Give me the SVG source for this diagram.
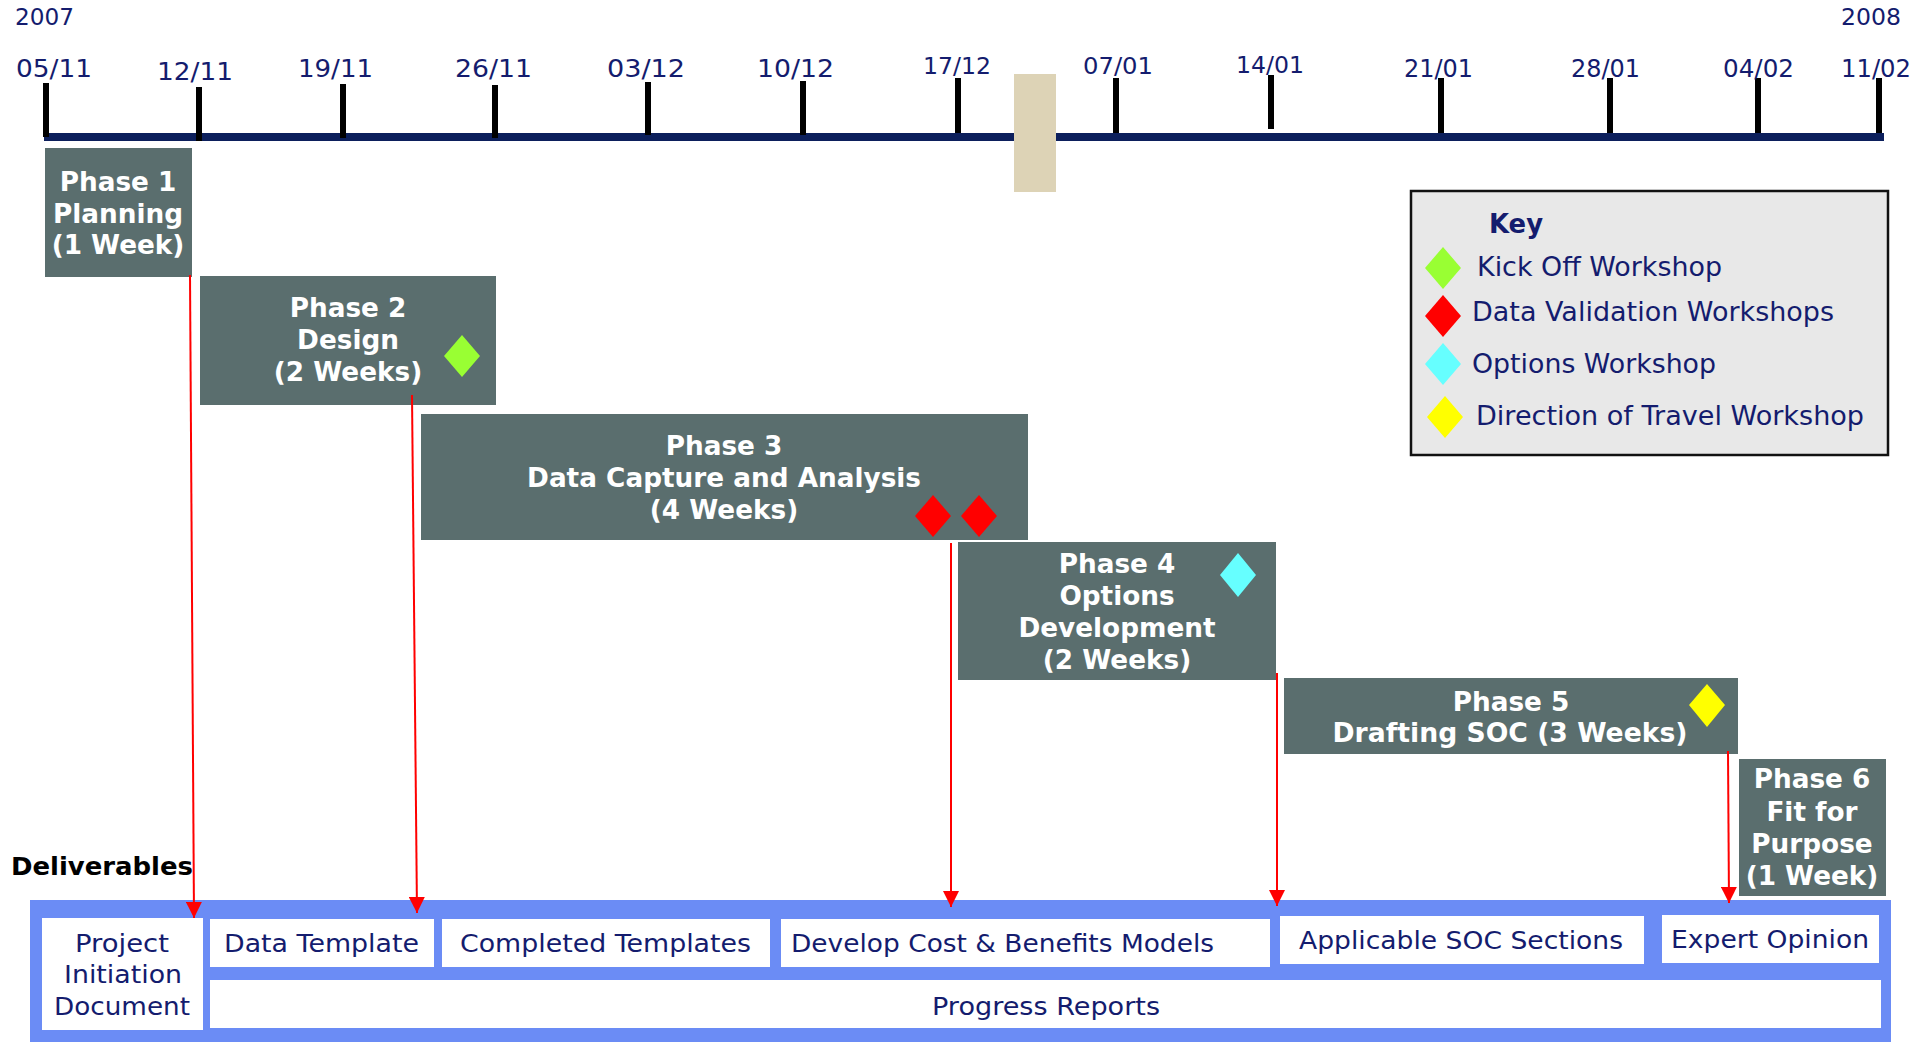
<svg xmlns="http://www.w3.org/2000/svg" width="1932" height="1042" viewBox="0 0 1932 1042">
<defs>
<style>
.date{font-family:"DejaVu Sans",Verdana,sans-serif;font-size:25px;fill:#141c6e}
.yr{font-family:"DejaVu Sans",Verdana,sans-serif;font-size:23px;fill:#141c6e}
.tick{fill:#000}
.phase{fill:#5a6e6e}
.pt{font-family:"DejaVu Sans",Verdana,sans-serif;font-size:26.3px;font-weight:bold;fill:#fff;text-anchor:middle}
.key{font-family:"DejaVu Sans",Verdana,sans-serif;font-size:26px;fill:#141c6e}
.del{font-family:"DejaVu Sans",Verdana,sans-serif;font-size:25px;fill:#141c6e}
.wbox{fill:#fff}
.arrow{stroke:#ff0000;stroke-width:2;fill:none}
</style>
<marker id="ah" viewBox="0 0 10 10" refX="10" refY="5" markerWidth="16" markerHeight="16" markerUnits="userSpaceOnUse" orient="auto">
<path d="M0,0 L10,5 L0,10 z" fill="#ff0000"/>
</marker>
</defs>
<rect width="1932" height="1042" fill="#fff"/>

<g id="timeline">
<text class="yr" x="15" y="25" textLength="59" lengthAdjust="spacingAndGlyphs">2007</text>
<text class="yr" x="1841" y="25" textLength="60" lengthAdjust="spacingAndGlyphs">2008</text>
<rect x="44" y="133" width="1840" height="8" fill="#0c1f5c"/>
<rect x="1014" y="74" width="42" height="118" fill="#ddd3b6"/>
<rect class="tick" x="43" y="83" width="6" height="54"/>
<rect class="tick" x="196" y="87" width="6" height="54"/>
<rect class="tick" x="340" y="84" width="6" height="54"/>
<rect class="tick" x="492" y="85" width="6" height="53"/>
<rect class="tick" x="645" y="82" width="6" height="53"/>
<rect class="tick" x="800" y="81" width="6" height="54"/>
<rect class="tick" x="955" y="78" width="6" height="55"/>
<rect class="tick" x="1113" y="78" width="6" height="55"/>
<rect class="tick" x="1268" y="75" width="6" height="54"/>
<rect class="tick" x="1438" y="78" width="6" height="55"/>
<rect class="tick" x="1607" y="78" width="6" height="55"/>
<rect class="tick" x="1755" y="78" width="6" height="55"/>
<rect class="tick" x="1876" y="78" width="6" height="55"/>
<text class="date" x="16" y="77" textLength="76" lengthAdjust="spacingAndGlyphs">05/11</text>
<text class="date" x="157" y="80" textLength="76" lengthAdjust="spacingAndGlyphs">12/11</text>
<text class="date" x="298" y="77" textLength="75" lengthAdjust="spacingAndGlyphs">19/11</text>
<text class="date" x="455" y="77" textLength="77" lengthAdjust="spacingAndGlyphs">26/11</text>
<text class="date" x="607" y="77" textLength="78" lengthAdjust="spacingAndGlyphs">03/12</text>
<text class="date" x="757" y="77" textLength="77" lengthAdjust="spacingAndGlyphs">10/12</text>
<text class="date" x="923" y="74" style="font-size:23px" textLength="68" lengthAdjust="spacingAndGlyphs">17/12</text>
<text class="date" x="1083" y="74" style="font-size:23px" textLength="70" lengthAdjust="spacingAndGlyphs">07/01</text>
<text class="date" x="1236" y="73" style="font-size:23px" textLength="68" lengthAdjust="spacingAndGlyphs">14/01</text>
<text class="date" x="1404" y="77" textLength="69" lengthAdjust="spacingAndGlyphs">21/01</text>
<text class="date" x="1571" y="77" textLength="69" lengthAdjust="spacingAndGlyphs">28/01</text>
<text class="date" x="1723" y="77" textLength="71" lengthAdjust="spacingAndGlyphs">04/02</text>
<text class="date" x="1841" y="77" textLength="70" lengthAdjust="spacingAndGlyphs">11/02</text>
</g>

<g id="phase1">
<rect class="phase" x="45" y="148" width="147" height="129"/>
<text class="pt" x="118" y="191">Phase 1</text>
<text class="pt" x="118" y="223">Planning</text>
<text class="pt" x="118" y="254">(1 Week)</text>
</g>

<g id="phase2">
<rect class="phase" x="200" y="276" width="296" height="129"/>
<text class="pt" x="348" y="317">Phase 2</text>
<text class="pt" x="348" y="349">Design</text>
<text class="pt" x="348" y="381">(2 Weeks)</text>
<path d="M462,335 L480,356 L462,377 L444,356 Z" fill="#99ff33"/>
</g>

<g id="phase3">
<rect class="phase" x="421" y="414" width="607" height="126"/>
<text class="pt" x="724" y="455">Phase 3</text>
<text class="pt" x="724" y="487">Data Capture and Analysis</text>
<text class="pt" x="724" y="519">(4 Weeks)</text>
<path d="M933,495 L951,516 L933,537 L915,516 Z" fill="#ff0000"/>
<path d="M979,495 L997,516 L979,537 L961,516 Z" fill="#ff0000"/>
</g>

<g id="phase4">
<rect class="phase" x="958" y="542" width="318" height="138"/>
<text class="pt" x="1117" y="573">Phase 4</text>
<text class="pt" x="1117" y="605">Options</text>
<text class="pt" x="1117" y="637">Development</text>
<text class="pt" x="1117" y="669">(2 Weeks)</text>
<path d="M1238,553 L1256,575 L1238,597 L1220,575 Z" fill="#66ffff"/>
</g>

<g id="phase5">
<rect class="phase" x="1284" y="678" width="454" height="76"/>
<text class="pt" x="1511" y="711">Phase 5</text>
<text class="pt" x="1510" y="742" textLength="355" lengthAdjust="spacingAndGlyphs">Drafting SOC (3 Weeks)</text>
<path d="M1707,684 L1725,705 L1707,727 L1689,705 Z" fill="#ffff00"/>
</g>

<g id="phase6">
<rect class="phase" x="1739" y="759" width="147" height="137"/>
<text class="pt" x="1812" y="788">Phase 6</text>
<text class="pt" x="1812" y="821">Fit for</text>
<text class="pt" x="1812" y="853">Purpose</text>
<text class="pt" x="1812" y="885">(1 Week)</text>
</g>

<g id="key">
<rect x="1411" y="191" width="477" height="264" fill="#e8e8e8" stroke="#111" stroke-width="2.5"/>
<text class="key" x="1489" y="233" style="font-weight:bold" textLength="54" lengthAdjust="spacingAndGlyphs">Key</text>
<path d="M1443,247 L1461,268 L1443,289 L1425,268 Z" fill="#99ff33"/>
<path d="M1443,295 L1461,316 L1443,337 L1425,316 Z" fill="#ff0000"/>
<path d="M1443,343 L1461,364 L1443,385 L1425,364 Z" fill="#66ffff"/>
<path d="M1445,396 L1463,417 L1445,438 L1427,417 Z" fill="#ffff00"/>
<text class="key" x="1477" y="276" textLength="245" lengthAdjust="spacingAndGlyphs">Kick Off Workshop</text>
<text class="key" x="1472" y="321" textLength="362" lengthAdjust="spacingAndGlyphs">Data Validation Workshops</text>
<text class="key" x="1472" y="373" textLength="244" lengthAdjust="spacingAndGlyphs">Options Workshop</text>
<text class="key" x="1476" y="425" textLength="388" lengthAdjust="spacingAndGlyphs">Direction of Travel Workshop</text>
</g>

<g id="deliverables">
<text x="11" y="875" style="font-family:'DejaVu Sans',Verdana,sans-serif;font-size:24px;font-weight:bold;fill:#000" textLength="182" lengthAdjust="spacingAndGlyphs">Deliverables</text>
<rect x="30" y="900" width="1861" height="145" fill="#6b8cf5"/>
<g id="d-pid">
<rect class="wbox" x="42" y="918" width="161" height="112"/>
<text class="del" x="122" y="952" text-anchor="middle" textLength="94" lengthAdjust="spacingAndGlyphs">Project</text>
<text class="del" x="123" y="983" text-anchor="middle" textLength="118" lengthAdjust="spacingAndGlyphs">Initiation</text>
<text class="del" x="122" y="1015" text-anchor="middle" textLength="136" lengthAdjust="spacingAndGlyphs">Document</text>
</g>
<g id="d-template">
<rect class="wbox" x="210" y="919" width="224" height="48"/>
<text class="del" x="224" y="952" textLength="195" lengthAdjust="spacingAndGlyphs">Data Template</text>
</g>
<g id="d-completed">
<rect class="wbox" x="442" y="919" width="328" height="48"/>
<text class="del" x="460" y="952" textLength="291" lengthAdjust="spacingAndGlyphs">Completed Templates</text>
</g>
<g id="d-models">
<rect class="wbox" x="781" y="919" width="489" height="48"/>
<text class="del" x="791" y="952" textLength="423" lengthAdjust="spacingAndGlyphs">Develop Cost &amp; Benefits Models</text>
</g>
<g id="d-soc">
<rect class="wbox" x="1280" y="916" width="364" height="48"/>
<text class="del" x="1299" y="949" textLength="324" lengthAdjust="spacingAndGlyphs">Applicable SOC Sections</text>
</g>
<g id="d-expert">
<rect class="wbox" x="1662" y="915" width="217" height="48"/>
<text class="del" x="1671" y="948" textLength="198" lengthAdjust="spacingAndGlyphs">Expert Opinion</text>
</g>
<g id="d-progress">
<rect class="wbox" x="210" y="980" width="1671" height="48"/>
<text class="del" x="1046" y="1015" text-anchor="middle" textLength="228" lengthAdjust="spacingAndGlyphs">Progress Reports</text>
</g>
</g>

<g id="connectors">
<line class="arrow" x1="190" y1="275" x2="194" y2="918" marker-end="url(#ah)"/>
<line class="arrow" x1="412" y1="395" x2="417" y2="913" marker-end="url(#ah)"/>
<line class="arrow" x1="951" y1="543" x2="951" y2="907" marker-end="url(#ah)"/>
<line class="arrow" x1="1277" y1="673" x2="1277" y2="906" marker-end="url(#ah)"/>
<line class="arrow" x1="1728" y1="751" x2="1729" y2="903" marker-end="url(#ah)"/>
</g>
</svg>
